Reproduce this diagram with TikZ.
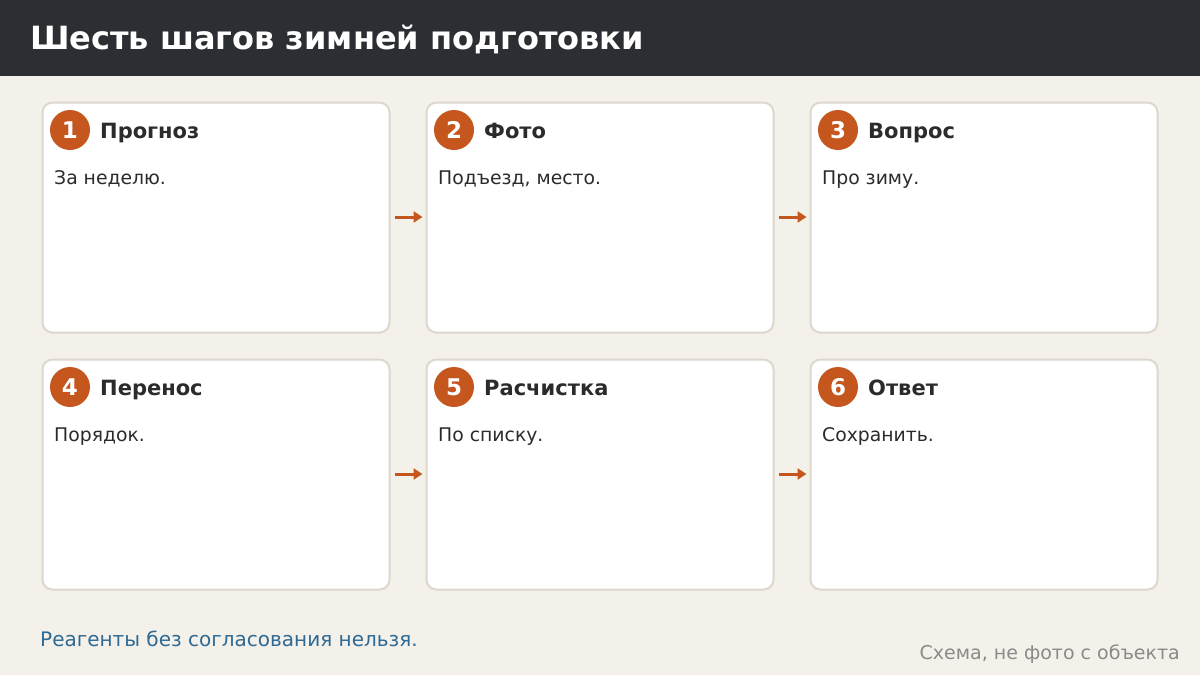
\documentclass[tikz,border=0pt]{standalone}
\usepackage{fontspec}
\setmainfont{DejaVu Sans}
\usetikzlibrary{arrows.meta}
\definecolor{bg}{HTML}{F4F1EA}
\definecolor{band}{HTML}{2B2E33}
\definecolor{cardline}{HTML}{DDD8CE}
\definecolor{accent}{HTML}{C4561E}
\definecolor{ink}{HTML}{2B2B2B}
\definecolor{note}{HTML}{2E6A94}
\definecolor{muted}{HTML}{8A8A8A}
\begin{document}
\begin{tikzpicture}[x=1pt,y=-1pt,
  card/.style={draw=cardline,line width=2pt,fill=white,rounded corners=10pt,minimum width=347pt,minimum height=230pt,inner sep=0pt},
  badge/.style={circle,fill=accent,minimum size=40pt,inner sep=0pt,text=white,font=\bfseries\fontsize{23}{26}\selectfont},
  ctitle/.style={anchor=base west,inner sep=0pt,text=ink,font=\bfseries\fontsize{21}{24}\selectfont},
  cbody/.style={anchor=base west,inner sep=0pt,text=ink,font=\fontsize{18.8}{22}\selectfont},
  flow/.style={draw=accent,line width=3pt,-{Triangle[length=9pt,width=11pt]}}]
\fill[bg] (0,0) rectangle (1200,675);
\useasboundingbox (0,0) rectangle (1200,675);
\fill[band] (0,0) rectangle (1200,76);
\node[anchor=base west,inner sep=0pt,text=white,font=\bfseries\fontsize{32}{36}\selectfont] (title) at (30,49) {Шесть шагов зимней подготовки};
% cards
\foreach \n/\x/\y/\t/\b in {1/41.5/101.5/Прогноз/За неделю.,2/425.5/101.5/Фото/{Подъезд, место.},3/809.5/101.5/Вопрос/Про зиму.,4/41.5/358.5/Перенос/Порядок.,5/425.5/358.5/Расчистка/По списку.,6/809.5/358.5/Ответ/Сохранить.}{
  \node[card,anchor=north west] (c\n) at (\x,\y) {};
  \node[badge] (b\n) at (\x+28.5,\y+28.5) {\n};
  \node[ctitle] (t\n) at (\x+58.5,\y+37) {\t};
  \node[cbody] (d\n) at (\x+12.5,\y+82.5) {\b};
}
\draw[flow] ([xshift=4pt,yshift=0.5pt]c1.east) -- ([xshift=-3pt,yshift=0.5pt]c2.west);
\draw[flow] ([xshift=4pt,yshift=0.5pt]c2.east) -- ([xshift=-3pt,yshift=0.5pt]c3.west);
\draw[flow] ([xshift=4pt,yshift=0.5pt]c4.east) -- ([xshift=-3pt,yshift=0.5pt]c5.west);
\draw[flow] ([xshift=4pt,yshift=0.5pt]c5.east) -- ([xshift=-3pt,yshift=0.5pt]c6.west);
\node[anchor=base west,inner sep=0pt,text=note,font=\fontsize{20}{23}\selectfont] (warn) at (40,646.5) {Реагенты без согласования нельзя.};
\node[anchor=base east,inner sep=0pt,text=muted,font=\fontsize{19}{22}\selectfont] (src) at (1180,659) {Схема, не фото с объекта};
\end{tikzpicture}
\end{document}
